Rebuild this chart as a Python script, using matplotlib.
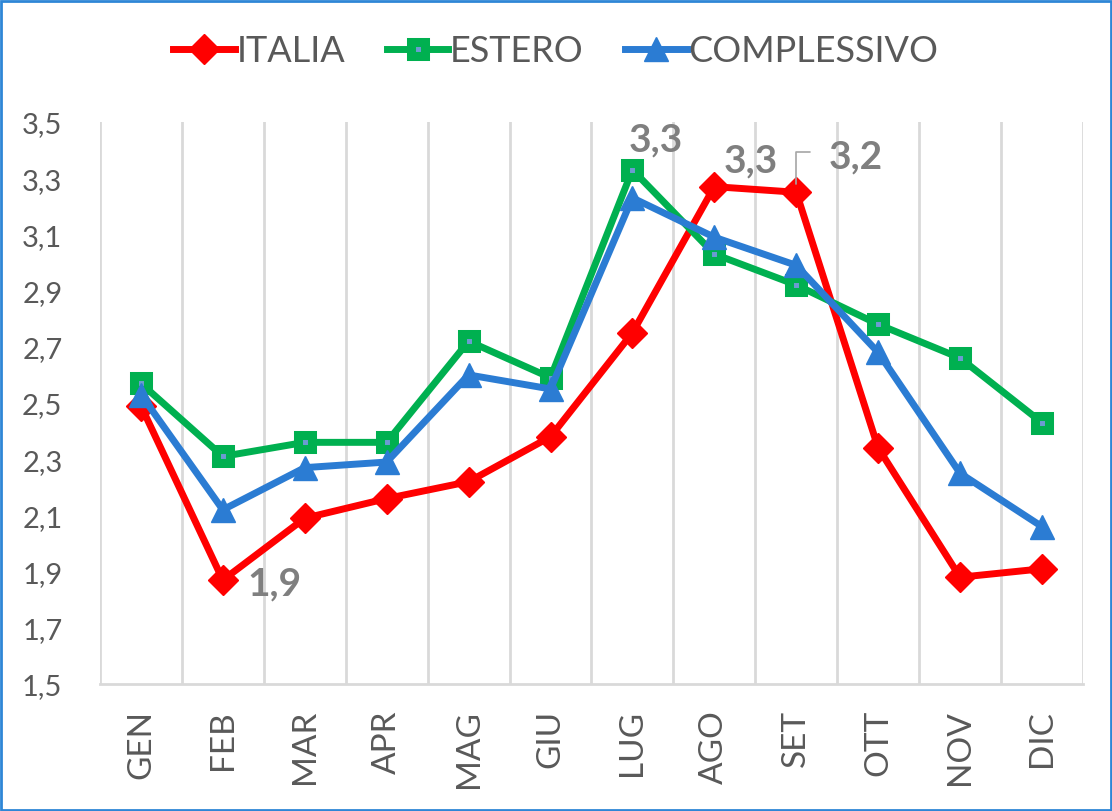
import numpy as np
import matplotlib
matplotlib.use("Agg")
import matplotlib.pyplot as plt
from matplotlib.patches import Rectangle

# Monthly values
mesi = ["GEN", "FEB", "MAR", "APR", "MAG", "GIU", "LUG", "AGO", "SET", "OTT", "NOV", "DIC"]
italia = [2.49, 1.87, 2.09, 2.16, 2.22, 2.38, 2.75, 3.27, 3.25, 2.34, 1.88, 1.91]
estero = [2.57, 2.31, 2.36, 2.36, 2.72, 2.59, 3.33, 3.03, 2.92, 2.78, 2.66, 2.43]
complessivo = [2.53, 2.12, 2.27, 2.29, 2.60, 2.55, 3.23, 3.09, 2.99, 2.68, 2.25, 2.06]
yticks = [1.5, 1.7, 1.9, 2.1, 2.3, 2.5, 2.7, 2.9, 3.1, 3.3, 3.5]

plt.rcParams['font.family'] = ['Lato', 'DejaVu Sans']

RED = '#FF0000'
GREEN = '#00B050'
BLUE = '#2B7CD3'
TXT = '#595959'
GRID = '#D9D9D9'
LBL = '#7F7F7F'

fig = plt.figure(figsize=(11.12, 8.12), dpi=100)
ax = fig.add_axes([0.0899, 0.1564, 0.884, 0.6921])

x = np.arange(len(mesi))
ax.plot(x, italia, color=RED, lw=5, marker='D', ms=15, mfc=RED, mec=RED,
        label='ITALIA', zorder=3)
ax.plot(x, estero, color=GREEN, lw=5, marker='s', ms=10.5, mfc='#6C9BD2', mec=GREEN,
        mew=6.5, label='ESTERO', zorder=4)
ax.plot(x, complessivo, color=BLUE, lw=5, marker='^', ms=17, mfc=BLUE, mec=BLUE,
        label='COMPLESSIVO', zorder=5)

ax.set_xlim(-0.5, len(mesi) - 0.5)
ax.set_ylim(1.5, 3.5)
ax.set_yticks(yticks)
ax.set_yticklabels([f"{v:.1f}".replace('.', ',') for v in yticks])
ax.set_xticks(x)
ax.set_xticklabels(mesi, rotation=90)
ax.set_xticks(np.arange(-0.5, len(mesi)), minor=True)
ax.grid(True, which='minor', axis='x', color=GRID, lw=2)
ax.tick_params(axis='y', length=0, pad=27, labelsize=21, labelcolor=TXT)
ax.tick_params(axis='x', which='major', length=0, pad=18, labelsize=24, labelcolor=TXT)
ax.tick_params(axis='x', which='minor', length=0)
for s in ['top', 'right', 'left']:
    ax.spines[s].set_visible(False)
ax.spines['bottom'].set_color(GRID)
ax.spines['bottom'].set_linewidth(2)

# data labels
lab = dict(textcoords='offset pixels', ha='center', va='center', fontsize=28,
           fontweight='bold', color=LBL, zorder=6)
ax.annotate('1,9', xy=(1, italia[1]), xytext=(52, -3), **lab)
ax.annotate('3,3', xy=(6, estero[6]), xytext=(23, 31), **lab)
ax.annotate('3,3', xy=(7, italia[7]), xytext=(36, 27), **lab)
ax.annotate('3,2', xy=(8, italia[8]), xytext=(59, 36), **lab)
ax.annotate('', xy=(8, italia[8]), xytext=(14, 40), textcoords='offset pixels',
            arrowprops=dict(arrowstyle='-', color='#A6A6A6', lw=1.2,
                            connectionstyle='angle,angleA=0,angleB=90,rad=0',
                            shrinkA=0, shrinkB=6))

leg = fig.legend(loc='center', bbox_to_anchor=(0.5, 0.936), ncol=3, frameon=False,
                 fontsize=26, handlelength=1.7, handletextpad=0.05,
                 columnspacing=1.15, labelcolor=TXT)

fig.add_artist(Rectangle((0.001, 0.001), 0.998, 0.997, transform=fig.transFigure,
                         fill=False, edgecolor='#2E86D6', lw=2))

fig.savefig('out.png', dpi=100)
